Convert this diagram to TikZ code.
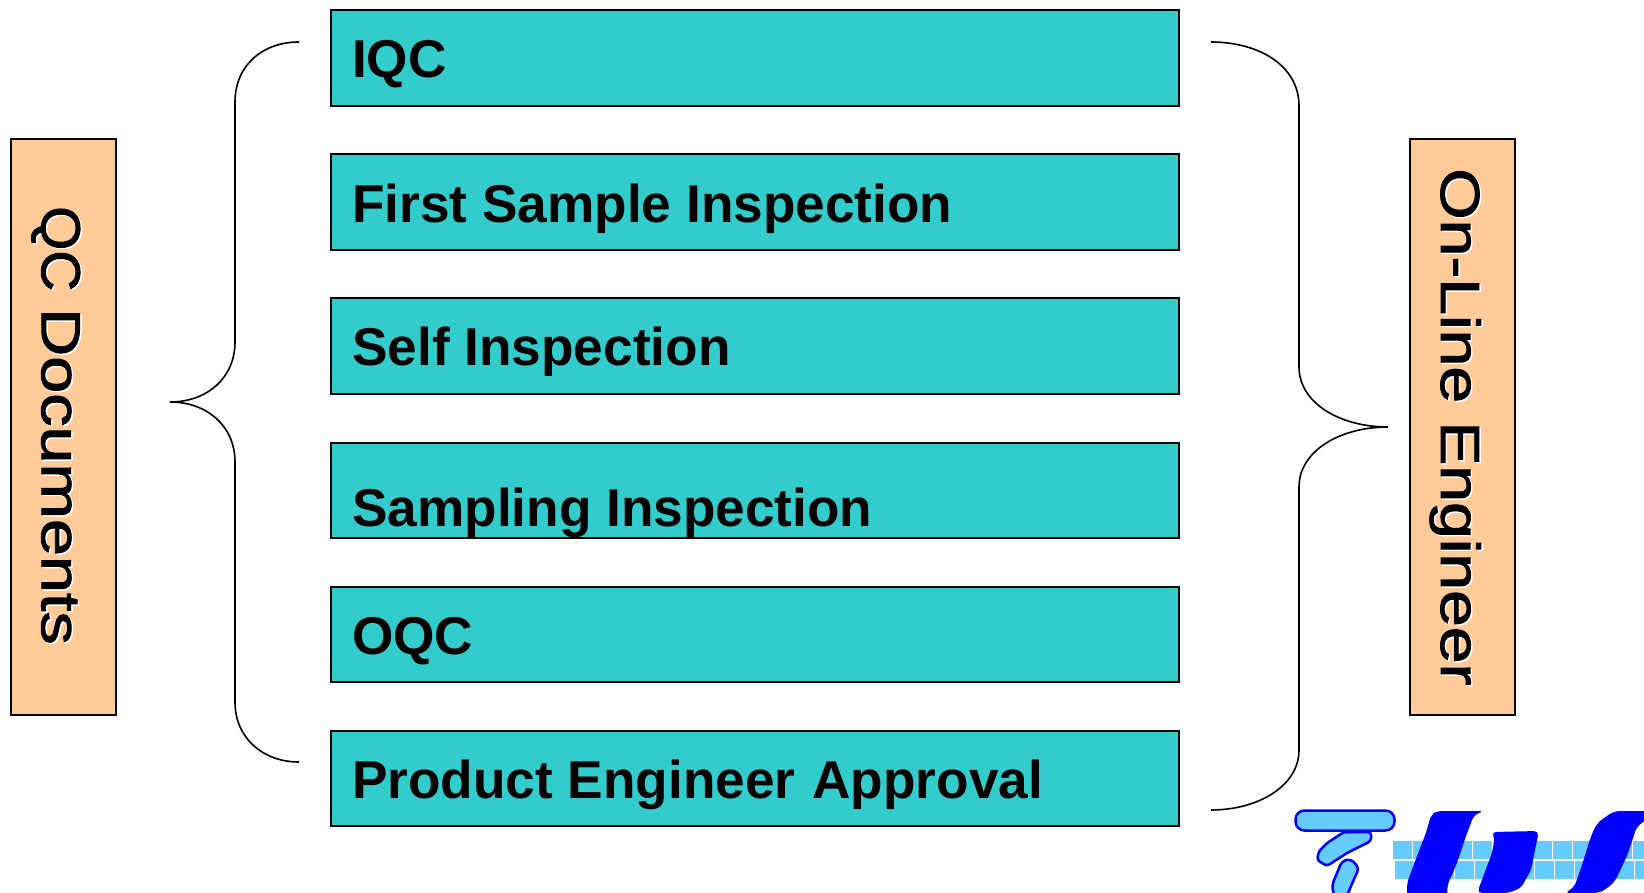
\documentclass[tikz,border=0pt]{standalone}
\usepackage{fontspec}
\usepackage{graphicx}
\setmainfont{Liberation Sans}
\newfontfamily\sidefont[FakeBold=1.6]{Liberation Sans}
\definecolor{teal1}{HTML}{33CCCC}
\definecolor{peach}{HTML}{FFCC99}
\definecolor{logoblue}{HTML}{0000FF}
\definecolor{logosky}{HTML}{66CCFF}
\newcommand{\halotext}[2]{\scalebox{#1}[1]{\rlap{\kern1.2pt\raisebox{1.5pt}{\color{white}#2}}#2}}
\tikzset{
  bar/.style={draw=black,line width=2pt,fill=teal1,minimum width=848pt,minimum height=95.5pt,anchor=north west,inner sep=0pt},
  barlabel/.style={anchor=base west,font=\fontsize{53.2}{54}\selectfont\bfseries,inner sep=0pt},
  side/.style={draw=black,line width=2pt,fill=peach,minimum width=105pt,minimum height=576pt,anchor=north west,inner sep=0pt},
  sidelabel/.style={font=\fontsize{55}{55}\sidefont,inner sep=0pt,rotate=-90},
  bracecurve/.style={draw=black,line width=1.6pt},
}
\begin{document}
\begin{tikzpicture}[x=1pt,y=-1pt]
\useasboundingbox (0,0) rectangle (1644,893);
\node[side] (qc) at (9.8,137.6) {};
\node[side] (ol) at (1409.2,137.6) {};
\node[sidelabel] (qct) at (56.5,425.5) {\halotext{1.03}{QC}\kern 17pt\halotext{1.21}{Documents}};
\node[sidelabel] (olt) at (1456,427) {\halotext{1.2}{On-Line Engineer}};
\node[bar] (b1) at (330,9.5) {};
\node[bar] (b2) at (330,153.5) {};
\node[bar] (b3) at (330,297.5) {};
\node[bar] (b4) at (330,441.5) {};
\node[bar] (b5) at (330,585.5) {};
\node[bar] (b6) at (330,729.5) {};
\node[barlabel] (t1) at (352,78) {IQC};
\node[barlabel] (t2) at (352,223) {First Sample Inspection};
\node[barlabel] (t3) at (352,366) {Self Inspection};
\node[barlabel] (t4) at (352,526) {Sampling Inspection};
\node[barlabel] (t5) at (352,654) {OQC};
\node[barlabel] (t6) at (352,798) {Product Engineer\kern2pt\ Approval};
\draw[bracecurve] (299,42) .. controls (263,42) and (235,65) .. (235,102) -- (235,342)
  .. controls (235,378) and (207,402) .. (170,402)
  .. controls (207,402) and (235,426) .. (235,462) -- (235,702)
  .. controls (235,738) and (263,762) .. (299,762);
\draw[bracecurve] (1211,42) .. controls (1258,42) and (1299,65) .. (1299,106) -- (1299,367)
  .. controls (1299,403) and (1340,427) .. (1388,427)
  .. controls (1340,427) and (1299,451) .. (1299,487) -- (1299,750)
  .. controls (1299,786) and (1258,810) .. (1211,810);
% logo
\begin{scope}
\clip (0,0) rectangle (1644,893);
\foreach \k in {0,...,12}{
  \fill[logosky] ({1393+20*\k},841) rectangle +(18.5,18);
  \fill[logosky] ({1395+20*\k},861) rectangle +(18.5,18);
}
\fill[logoblue,rounded corners=5pt] (1437,811) -- (1484,811) -- (1474,815) -- (1466,836) -- (1457,863) -- (1447,886) -- (1448,900)
  -- (1407,900) -- (1407,883) -- (1417,856) -- (1426,833) -- (1431,815) -- cycle;
\fill[logoblue,rounded corners=5pt] (1491,832) -- (1539,831) -- (1537,840) -- (1531,870) -- (1521,888) -- (1508,893) -- (1477,893)
  -- (1492,853) -- (1495,838) -- cycle;
\fill[logoblue,rounded corners=6pt] (1564,893) -- (1574,888) -- (1582,865) -- (1591,836) -- (1597,823) -- (1614,811) -- (1660,811)
  -- (1637,826) -- (1627,856) -- (1614,883) -- (1600,893) -- cycle;
\draw[logoblue,line width=2.5pt,fill=logosky,rounded corners=9pt] (1295.5,810.5) rectangle (1394.5,830.5);
\draw[logoblue,line width=2.5pt,fill=logosky,rounded corners=3pt] (1344,832) -- (1371,832) -- (1371,841) -- (1347,853)
  -- (1327,866) -- (1317,860) -- (1319,851) -- (1327,843) -- cycle;
\draw[logoblue,line width=2.5pt,fill=logosky,rounded corners=4pt] (1351,859) -- (1359,868) -- (1351,886) -- (1347,896)
  -- (1334,896) -- (1332,885) -- (1342,861) -- cycle;
\end{scope}
\end{tikzpicture}
\end{document}
